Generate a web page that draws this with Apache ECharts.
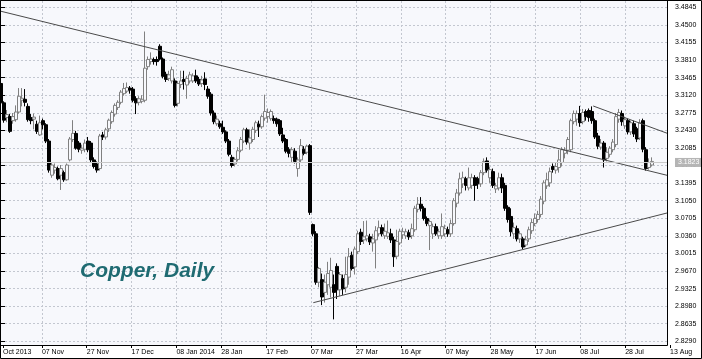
<!DOCTYPE html>
<html><head><meta charset="utf-8">
<script src="https://cdn.jsdelivr.net/npm/echarts@6/dist/echarts.min.js"></script>
<style>html,body{margin:0;padding:0;background:#fff}#c{width:702px;height:359px}</style>
</head><body><div id="c"></div>
<script>
const opens = [3.335,3.297,3.268,3.270,3.262,3.264,3.279,3.302,3.304,3.290,3.268,3.265,3.255,3.234,3.262,3.254,3.222,3.155,3.165,3.168,3.155,3.160,3.146,3.185,3.225,3.237,3.218,3.204,3.206,3.222,3.218,3.185,3.177,3.168,3.234,3.230,3.246,3.260,3.275,3.288,3.298,3.315,3.320,3.326,3.324,3.305,3.298,3.300,3.302,3.368,3.378,3.382,3.382,3.408,3.383,3.353,3.345,3.340,3.340,3.296,3.333,3.343,3.332,3.340,3.340,3.350,3.343,3.335,3.344,3.324,3.314,3.277,3.256,3.256,3.249,3.240,3.222,3.190,3.177,3.186,3.204,3.222,3.244,3.218,3.225,3.243,3.255,3.250,3.267,3.270,3.266,3.266,3.265,3.262,3.234,3.225,3.205,3.190,3.202,3.168,3.185,3.206,3.200,3.213,3.058,3.040,2.945,2.950,2.925,2.940,2.935,2.940,2.976,2.930,2.952,2.935,2.955,2.998,2.975,3.005,3.043,3.028,3.030,3.034,3.022,3.028,3.040,3.052,3.036,3.035,3.040,3.028,2.996,3.022,3.038,3.036,3.042,3.036,3.048,3.088,3.098,3.090,3.070,3.056,3.040,3.054,3.036,3.036,3.040,3.048,3.040,3.060,3.100,3.120,3.138,3.148,3.130,3.135,3.150,3.148,3.138,3.160,3.183,3.150,3.162,3.128,3.130,3.150,3.135,3.092,3.074,3.040,3.050,3.030,3.030,3.018,3.030,3.046,3.060,3.068,3.078,3.104,3.134,3.140,3.172,3.165,3.170,3.180,3.198,3.204,3.205,3.260,3.265,3.276,3.260,3.280,3.282,3.280,3.262,3.232,3.210,3.218,3.188,3.196,3.205,3.215,3.265,3.276,3.252,3.262,3.240,3.256,3.246,3.228,3.262,3.205,3.170,3.175];
const closes = [3.297,3.263,3.274,3.241,3.270,3.279,3.310,3.306,3.298,3.264,3.262,3.269,3.241,3.258,3.254,3.222,3.165,3.175,3.170,3.148,3.168,3.146,3.175,3.226,3.237,3.208,3.206,3.208,3.218,3.205,3.185,3.172,3.165,3.232,3.230,3.244,3.263,3.278,3.292,3.298,3.318,3.325,3.327,3.322,3.302,3.297,3.305,3.304,3.365,3.382,3.383,3.378,3.378,3.383,3.349,3.343,3.352,3.362,3.292,3.335,3.340,3.339,3.345,3.352,3.350,3.340,3.334,3.342,3.333,3.310,3.277,3.260,3.265,3.250,3.240,3.222,3.196,3.174,3.186,3.203,3.225,3.244,3.220,3.228,3.245,3.258,3.250,3.270,3.280,3.278,3.280,3.262,3.256,3.236,3.222,3.202,3.198,3.205,3.182,3.185,3.213,3.198,3.212,3.082,3.040,2.945,2.972,2.916,2.945,2.962,2.968,2.925,2.930,2.960,2.932,2.960,2.995,2.972,3.010,3.040,3.025,3.034,3.036,3.024,3.030,3.046,3.052,3.040,3.045,3.042,3.028,2.995,3.025,3.045,3.044,3.044,3.034,3.050,3.090,3.098,3.090,3.070,3.060,3.064,3.054,3.040,3.044,3.054,3.050,3.040,3.060,3.105,3.120,3.148,3.150,3.135,3.150,3.150,3.135,3.138,3.160,3.182,3.165,3.166,3.135,3.134,3.150,3.130,3.090,3.068,3.044,3.052,3.030,3.040,3.014,3.028,3.048,3.062,3.070,3.078,3.108,3.140,3.146,3.162,3.166,3.172,3.185,3.205,3.204,3.225,3.262,3.276,3.276,3.258,3.278,3.270,3.268,3.262,3.230,3.212,3.218,3.185,3.200,3.208,3.220,3.270,3.278,3.260,3.264,3.240,3.258,3.236,3.226,3.258,3.206,3.168,3.180,3.182];
const highs = [3.338,3.300,3.283,3.275,3.277,3.292,3.326,3.326,3.324,3.296,3.275,3.276,3.262,3.272,3.266,3.257,3.226,3.180,3.178,3.172,3.175,3.164,3.178,3.230,3.263,3.242,3.222,3.215,3.225,3.230,3.222,3.190,3.182,3.236,3.240,3.248,3.266,3.282,3.296,3.302,3.322,3.336,3.337,3.330,3.328,3.310,3.310,3.312,3.437,3.388,3.396,3.386,3.388,3.412,3.386,3.358,3.360,3.368,3.345,3.340,3.360,3.360,3.350,3.358,3.355,3.362,3.348,3.350,3.357,3.330,3.318,3.282,3.272,3.262,3.262,3.243,3.226,3.195,3.190,3.210,3.230,3.248,3.248,3.245,3.250,3.262,3.262,3.274,3.313,3.286,3.284,3.272,3.268,3.265,3.248,3.228,3.210,3.210,3.208,3.190,3.226,3.212,3.215,3.216,3.060,3.045,2.975,2.962,2.960,2.985,2.993,2.960,2.982,2.965,2.960,2.995,3.012,3.005,3.015,3.046,3.050,3.065,3.066,3.040,3.040,3.055,3.066,3.058,3.060,3.066,3.050,3.034,3.048,3.050,3.052,3.050,3.048,3.060,3.095,3.112,3.112,3.094,3.074,3.068,3.060,3.060,3.050,3.080,3.058,3.054,3.068,3.110,3.128,3.160,3.162,3.152,3.170,3.158,3.155,3.152,3.165,3.188,3.190,3.172,3.168,3.140,3.160,3.158,3.140,3.096,3.090,3.062,3.056,3.046,3.034,3.036,3.054,3.070,3.080,3.085,3.114,3.145,3.160,3.170,3.178,3.180,3.205,3.210,3.210,3.230,3.266,3.282,3.282,3.291,3.285,3.284,3.286,3.290,3.266,3.238,3.226,3.222,3.210,3.212,3.226,3.277,3.285,3.282,3.270,3.266,3.262,3.262,3.250,3.265,3.266,3.210,3.188,3.190];
const lows = [3.293,3.258,3.259,3.238,3.256,3.260,3.276,3.290,3.290,3.260,3.255,3.245,3.236,3.232,3.245,3.218,3.160,3.150,3.158,3.145,3.126,3.142,3.144,3.182,3.220,3.205,3.200,3.197,3.200,3.200,3.180,3.168,3.160,3.164,3.224,3.225,3.240,3.256,3.270,3.283,3.294,3.311,3.316,3.315,3.298,3.275,3.292,3.296,3.298,3.362,3.372,3.372,3.370,3.380,3.345,3.338,3.340,3.335,3.288,3.290,3.326,3.323,3.305,3.335,3.336,3.336,3.330,3.328,3.322,3.305,3.272,3.255,3.252,3.246,3.236,3.218,3.192,3.170,3.172,3.182,3.200,3.218,3.215,3.205,3.220,3.238,3.230,3.246,3.262,3.258,3.262,3.256,3.250,3.232,3.218,3.198,3.190,3.180,3.178,3.152,3.180,3.194,3.196,3.077,3.035,2.940,2.935,2.900,2.905,2.920,2.915,2.872,2.912,2.918,2.920,2.925,2.940,2.968,2.960,3.000,3.018,3.020,3.025,3.018,3.005,2.972,3.035,3.035,3.030,3.030,3.022,2.975,2.990,3.018,3.030,3.030,3.028,3.030,3.044,3.082,3.084,3.066,3.055,3.008,3.030,3.036,3.030,3.030,3.034,3.034,3.034,3.056,3.092,3.115,3.130,3.125,3.125,3.128,3.105,3.128,3.132,3.155,3.160,3.140,3.130,3.120,3.125,3.120,3.085,3.062,3.035,3.030,3.025,3.022,3.010,3.014,3.024,3.040,3.055,3.062,3.072,3.098,3.128,3.132,3.160,3.158,3.160,3.172,3.188,3.196,3.200,3.255,3.252,3.250,3.255,3.262,3.260,3.256,3.226,3.206,3.205,3.170,3.182,3.190,3.200,3.210,3.258,3.252,3.246,3.235,3.234,3.230,3.220,3.224,3.200,3.164,3.166,3.172];
const tickLabels = ['Oct 2013','07 Nov','27 Nov','17 Dec','08 Jan 2014','28 Jan','17 Feb','07 Mar','27 Mar','16 Apr','07 May','28 May','17 Jun','08 Jul','28 Jul','13 Aug'];
const tickSlots = [0,13,28,43,58,73,88,103,118,133,148,163,178,193,208,223];
const yMin = 2.8290, yMax = 3.4845, yStep = 0.0345;
const lastPrice = 3.1823;
const resistanceLine = [[0, 3.4767], [222, 3.1548]];
const supportLine = [[104.1, 2.9048], [222, 3.0808]];
const channelLine = [[197.4, 3.2908], [222, 3.2374]];
const slotCount = 223;

const plotBg = '#f7f8fc';
const gridColor = '#c3c7d0';
const font = 'Liberation Sans';

const candles = opens.map((o, i) => [o, closes[i], lows[i], highs[i]]);
const dataCats = Array.from({length: slotCount}, (_, i) => 'd' + i);
const labelCats = Array.from({length: slotCount + 1}, (_, i) => 'c' + i);
const labelMap = {};
tickSlots.forEach((s, k) => { labelMap['c' + s] = tickLabels[k]; });
const isTick = (idx) => tickSlots.indexOf(idx) >= 0;
const isGrid = (idx) => isTick(idx) && idx !== 0 && idx !== slotCount;

const chart = echarts.init(document.getElementById('c'), null, {renderer: 'canvas'});
chart.setOption({
  animation: false,
  backgroundColor: '#ffffff',
  title: {
    text: 'Copper, Daily', left: 75, top: 256,
    textStyle: {fontFamily: font, fontSize: 21, fontWeight: 'bold', fontStyle: 'italic', color: '#1f6b72'}
  },
  graphic: [{type: 'rect', shape: {x: 0.5, y: 0.5, width: 701, height: 358}, style: {fill: 'none', stroke: '#000', lineWidth: 1}, silent: true, z: 100}],
  grid: [
    {left: 0.5, top: 0.5, right: 34.5, bottom: 13.5, show: true, borderColor: '#000', borderWidth: 1, backgroundColor: plotBg},
    {left: 1, top: 1, right: 32, bottom: 14},
    {left: 1, top: 7.3, right: 35, bottom: 17.7}
  ],
  xAxis: [
    {gridIndex: 0, type: 'value', show: false, min: 0, max: 1},
    {gridIndex: 1, type: 'category', boundaryGap: false, data: labelCats,
      axisLine: {show: false},
      axisTick: {show: true, length: 3, interval: (i) => isTick(i), lineStyle: {color: '#000'}},
      axisLabel: {interval: (i) => isTick(i), align: 'left', margin: 4, fontFamily: font, fontSize: 7, color: '#000',
        formatter: (v) => labelMap[v] || ''},
      splitLine: {show: true, interval: (i) => isGrid(i), lineStyle: {type: [2, 2], color: gridColor, width: 1}}},
    {gridIndex: 2, type: 'category', boundaryGap: false, data: dataCats, show: false},
    {gridIndex: 2, type: 'value', min: 0, max: 222, show: false}
  ],
  yAxis: [
    {gridIndex: 0, type: 'value', show: false},
    {gridIndex: 1, type: 'value', show: false},
    {gridIndex: 2, type: 'value', position: 'right', min: yMin, max: yMax, interval: yStep,
      axisLine: {show: false},
      axisTick: {show: true, length: 4, lineStyle: {color: '#000'}},
      axisLabel: {margin: 8, fontFamily: font, fontSize: 7, color: '#000', formatter: (v) => v.toFixed(4)},
      splitLine: {show: true, lineStyle: {type: [2, 2], color: gridColor, width: 1}}}
  ],
  series: [
    {type: 'candlestick', xAxisIndex: 2, yAxisIndex: 2, data: candles, barWidth: 3,
      itemStyle: {color: plotBg, color0: '#000000', borderColor: '#808080', borderColor0: '#000000', borderWidth: 1},
      markLine: {silent: true, symbol: 'none', animation: false,
        lineStyle: {color: '#c9c9c9', type: 'solid', width: 1},
        label: {show: true, position: 'end', distance: 8, formatter: lastPrice.toFixed(4), color: '#ffffff',
          backgroundColor: '#b5b5b5', fontFamily: font, fontSize: 7, padding: [1, 3, 1, 3]},
        data: [{yAxis: lastPrice}]}},
    {type: 'line', xAxisIndex: 3, yAxisIndex: 2, data: resistanceLine, symbol: 'none', silent: true,
      lineStyle: {color: '#4a4a4a', width: 1}},
    {type: 'line', xAxisIndex: 3, yAxisIndex: 2, data: supportLine, symbol: 'none', silent: true,
      lineStyle: {color: '#4a4a4a', width: 1}},
    {type: 'line', xAxisIndex: 3, yAxisIndex: 2, data: channelLine, symbol: 'none', silent: true,
      lineStyle: {color: '#4a4a4a', width: 1}}
  ]
});
</script></body></html>
